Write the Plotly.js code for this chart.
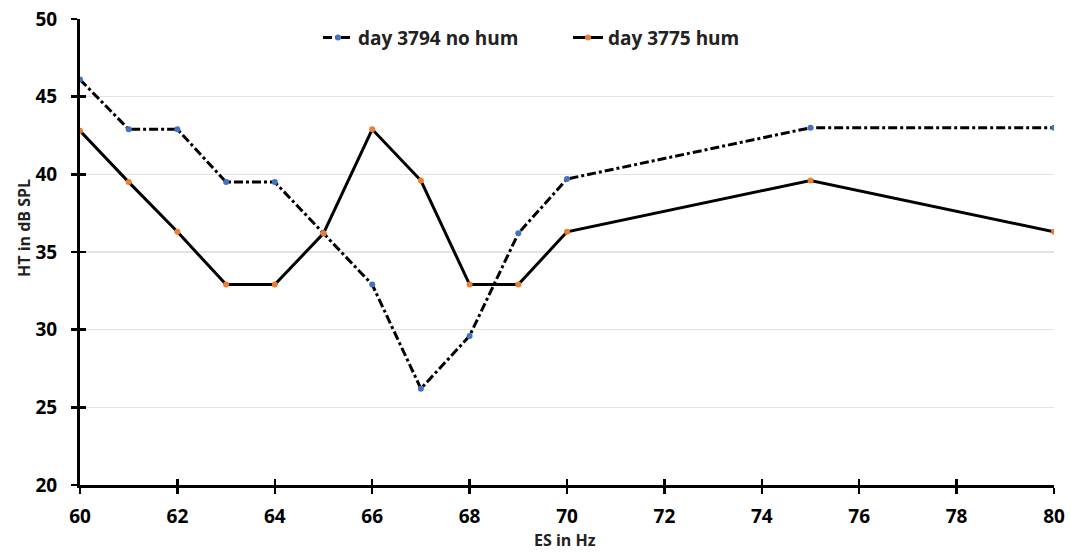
<!DOCTYPE html>
<html>
<head>
<meta charset="utf-8">
<script src="https://cdn.plot.ly/plotly-3.0.1.min.js"></script>
<style>html,body{margin:0;padding:0;background:#fff;}#chart{width:1071px;height:553px;}</style>
</head>
<body>
<div id="chart"></div>
<script>
const freqNoHum = [60, 61, 62, 63, 64, 65, 66, 67, 68, 69, 70, 75, 80];
const htNoHum   = [46.1, 42.9, 42.9, 39.5, 39.5, 36.2, 32.9, 26.2, 29.6, 36.2, 39.7, 43.0, 43.0];
const freqHum   = [60, 61, 62, 63, 64, 65, 66, 67, 68, 69, 70, 75, 80];
const htHum     = [42.8, 39.5, 36.3, 32.9, 32.9, 36.2, 42.9, 39.6, 32.9, 32.9, 36.3, 39.6, 36.3];
const seriesNames = ["day 3794 no hum", "day 3775 hum"];
const xTicks = [60, 62, 64, 66, 68, 70, 72, 74, 76, 78, 80];
const yTicks = [20, 25, 30, 35, 40, 45, 50];
const xTitle = "ES in Hz";
const yTitle = "HT in dB SPL";

const fontFam = "Open Sans, Liberation Sans, sans-serif";
const traces = [
  {x: freqNoHum, y: htNoHum, name: seriesNames[0], mode: "lines+markers", type: "scatter",
   line: {color: "#000", width: 3, dash: "dashdot"},
   marker: {color: "#4472c4", size: 6}},
  {x: freqHum, y: htHum, name: seriesNames[1], mode: "lines+markers", type: "scatter",
   line: {color: "#000", width: 3},
   marker: {color: "#ed7d31", size: 6}},
  {x: [60], y: [20], xaxis: "x2", yaxis: "y2", mode: "markers", showlegend: false,
   hoverinfo: "skip", marker: {opacity: 0}}
];
const layout = {
  width: 1071, height: 553,
  margin: {l: 80, r: 17, t: 19, b: 68},
  paper_bgcolor: "#fff", plot_bgcolor: "#fff",
  font: {family: fontFam, color: "#000"},
  showlegend: true,
  legend: {orientation: "h", x: (318 - 80) / 974, xanchor: "left", y: 0.96, yanchor: "middle",
           entrywidth: 205,
           font: {size: 19, weight: "bold", color: "#222"}, bgcolor: "rgba(255,255,255,0)",
           traceorder: "normal"},
  xaxis: {range: [60, 80], tickvals: xTicks, ticktext: xTicks.map(String),
          showgrid: false, zeroline: false, showline: true, linecolor: "#000", linewidth: 3,
          ticks: "outside", ticklen: 6, tickwidth: 2.5, tickcolor: "#000",
          ticklabelstandoff: 6,
          tickfont: {size: 19, weight: "bold", color: "#000"}},
  yaxis: {range: [20, 50], tickvals: yTicks, ticktext: yTicks.map(String),
          showgrid: true, gridcolor: "#e3e3e3", gridwidth: 1.5, zeroline: false,
          showline: true, linecolor: "#000", linewidth: 3,
          ticks: "outside", ticklen: 6, tickwidth: 2.5, tickcolor: "#000",
          ticklabelstandoff: 10,
          tickfont: {size: 19, weight: "bold", color: "#000"}},
  xaxis2: {overlaying: "x", range: [60, 80], tickvals: xTicks, showticklabels: false,
           showgrid: false, zeroline: false, showline: false,
           ticks: "inside", ticklen: 6, tickwidth: 2.5, tickcolor: "#000", side: "bottom"},
  yaxis2: {overlaying: "y", range: [20, 50], tickvals: yTicks, showticklabels: false,
           showgrid: false, zeroline: false, showline: false,
           ticks: "inside", ticklen: 6, tickwidth: 2.5, tickcolor: "#000", side: "left"},
  annotations: [
    {text: xTitle, xref: "paper", yref: "paper", x: (565 - 80) / 974, y: (485 - 540) / 466,
     xanchor: "center", yanchor: "middle", showarrow: false,
     font: {size: 16, weight: "bold", color: "#222"}},
    {text: yTitle, xref: "paper", yref: "paper", x: (24 - 80) / 974, y: (485 - 228) / 466,
     xanchor: "center", yanchor: "middle", showarrow: false, textangle: -90,
     font: {size: 16, weight: "bold", color: "#222"}}
  ]
};
Plotly.newPlot("chart", traces, layout, {displayModeBar: false, staticPlot: true});
</script>
</body>
</html>
